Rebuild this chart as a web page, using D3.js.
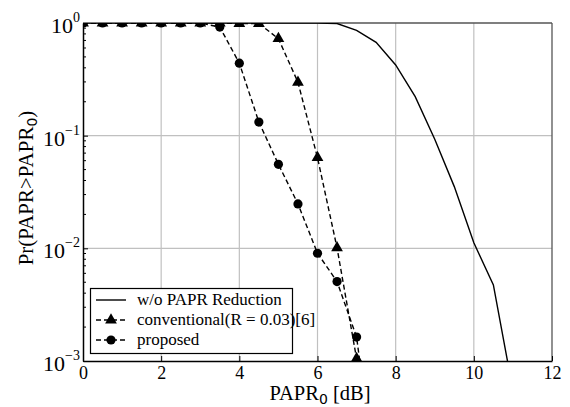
<!DOCTYPE html>
<html><head><meta charset="utf-8">
<script src="https://cdn.jsdelivr.net/npm/d3@7"></script>
<style>body{margin:0;background:#fff}svg{display:block}</style>
</head><body>
<script>
const xTicks = [0,2,4,6,8,10,12];
const yTicks = [1e-3,1e-2,1e-1,1];
const yTickExp = ["−3","−2","−1","0"];
const legendLabels = ["w/o PAPR Reduction","conventional(R = 0.03)[6]","proposed"];

const origX = [0,0.5,1,1.5,2,2.5,3,3.5,4,4.5,5,5.5,6,6.5,7,7.5,8,8.5,9,9.5,10,10.5,11];
const origY = [1,1,1,1,1,1,1,1,1,1,1,1,0.999,0.99,0.86,0.674,0.424,0.222,0.093,0.0353,0.0112,0.00473,0.00055];

const convX = [0,0.5,1,1.5,2,2.5,3,3.5,4,4.5,5,5.5,6,6.5,7,7.5];
const convY = [1,1,1,1,1,1,1,1,0.99,0.99,0.726,0.298,0.0638,0.0101,0.00105,0.00008];

const propX = [0,0.5,1,1.5,2,2.5,3,3.5,4,4.5,5,5.5,6,6.5,7,7.5];
const propY = [1,1,1,1,1,1,1,0.92,0.44,0.132,0.0557,0.0248,0.00904,0.00507,0.00163,0.00008];

const FONT = "Liberation Serif";
const SUBFONT = "DejaVu Sans";
const W=570,H=407, L=83,R=552,T=23,B=361;
const svg = d3.select("body").append("svg").attr("width",W).attr("height",H).attr("font-family",FONT);
const x = d3.scaleLinear().domain([0,12]).range([L,R]);
const y = d3.scaleLog().domain([1e-3,1]).range([B,T]);

svg.append("defs").append("clipPath").attr("id","clip")
  .append("rect").attr("x",L).attr("y",T).attr("width",R-L).attr("height",B-T);

// grid
const g = svg.append("g");
g.selectAll(".gx").data(xTicks.slice(1,-1)).enter().append("line")
  .attr("x1",d=>x(d)).attr("x2",d=>x(d)).attr("y1",T).attr("y2",B)
  .attr("stroke","#c0c0c0").attr("stroke-width",1.2);
g.selectAll(".gy").data(yTicks.slice(1,-1)).enter().append("line")
  .attr("y1",d=>y(d)).attr("y2",d=>y(d)).attr("x1",L).attr("x2",R)
  .attr("stroke","#c0c0c0").attr("stroke-width",1.2);

// frame top/right
svg.append("line").attr("x1",L).attr("x2",R).attr("y1",T).attr("y2",T).attr("stroke","#555").attr("stroke-width",1.3);
svg.append("line").attr("x1",R).attr("x2",R).attr("y1",T).attr("y2",B).attr("stroke","#555").attr("stroke-width",1.3);

// data
const plot = svg.append("g").attr("clip-path","url(#clip)");
const line = d3.line().x(d=>x(d[0])).y(d=>y(d[1]));
plot.append("path").datum(origX.map((v,i)=>[v,origY[i]]))
  .attr("d",line).attr("fill","none").attr("stroke","#000").attr("stroke-width",1.4);
plot.append("path").datum(convX.map((v,i)=>[v,convY[i]]))
  .attr("d",line).attr("fill","none").attr("stroke","#000").attr("stroke-width",1.4).attr("stroke-dasharray","5,3");
plot.append("path").datum(propX.map((v,i)=>[v,propY[i]]))
  .attr("d",line).attr("fill","none").attr("stroke","#000").attr("stroke-width",1.4).attr("stroke-dasharray","5,3");
const tri = d3.symbol().type(d3.symbolTriangle).size(60);
plot.selectAll(".tri").data(convX.map((v,i)=>[v,convY[i]])).enter().append("path")
  .attr("d",tri).attr("transform",d=>`translate(${x(d[0])},${y(d[1])})`).attr("fill","#000");
plot.selectAll(".cir").data(propX.map((v,i)=>[v,propY[i]])).enter().append("circle")
  .attr("cx",d=>x(d[0])).attr("cy",d=>y(d[1])).attr("r",4.6).attr("fill","#000");

// axes
const xAxis = d3.axisBottom(x).tickValues(xTicks).tickSizeInner(-5).tickSizeOuter(0).tickPadding(5).tickFormat(d3.format("d"));
const xg = svg.append("g").attr("transform",`translate(0,${B})`).call(xAxis).attr("font-family",FONT);
xg.select(".domain").attr("stroke","#000").attr("stroke-width",1.5);
xg.selectAll("text").attr("font-size",18).attr("font-family",FONT).attr("fill","#000");
xg.selectAll(".tick line").attr("stroke","#000");

const minor = [];
for (let e=-3;e<0;e++) for (let k=2;k<=9;k++) minor.push(k*Math.pow(10,e));
const yAxis = d3.axisLeft(y).tickValues(yTicks).tickSizeInner(-5).tickSizeOuter(0).tickFormat("");
const yg = svg.append("g").attr("transform",`translate(${L},0)`).call(yAxis);
yg.select(".domain").attr("stroke","#000").attr("stroke-width",1.5);
yg.selectAll(".tick line").attr("stroke","#000");
yg.selectAll(".mn").data(minor).enter().append("line")
  .attr("x1",0).attr("x2",3).attr("y1",d=>y(d)).attr("y2",d=>y(d)).attr("stroke","#000");
const lab = svg.append("g").selectAll("text").data(yTicks).enter().append("text")
  .attr("x",80).attr("y",d=>y(d)+10).attr("text-anchor","end").attr("font-size",22)
  .attr("font-family",FONT).attr("fill","#000");
lab.append("tspan").text("10");
lab.append("tspan").attr("dy",-11).attr("font-size",14).text((d,i)=>yTickExp[i]);

// axis titles
const xt = svg.append("text").attr("x",320).attr("y",400).attr("text-anchor","middle").attr("font-size",20.5)
  .attr("font-family",FONT).attr("fill","#000");
xt.append("tspan").text("PAPR");
xt.append("tspan").attr("dy",4).attr("font-size",14).attr("font-family",SUBFONT).text("0");
xt.append("tspan").attr("dy",-4).text(" [dB]");
const yt = svg.append("text").attr("transform","translate(33,188) rotate(-90)").attr("text-anchor","middle").attr("font-size",21)
  .attr("font-family",FONT).attr("fill","#000");
yt.append("tspan").text("Pr(PAPR>PAPR");
yt.append("tspan").attr("dy",4).attr("font-size",14).attr("font-family",SUBFONT).text("0");
yt.append("tspan").attr("dy",-4).text(")");

// legend
const lg = svg.append("g");
lg.append("rect").attr("x",90.5).attr("y",288.5).attr("width",202).attr("height",65)
  .attr("fill","#fff").attr("stroke","#000").attr("stroke-width",1.2);
legendLabels.forEach((t,i)=>{
  const yy = 300 + i*20;
  lg.append("line").attr("x1",96).attr("x2",126).attr("y1",yy).attr("y2",yy)
    .attr("stroke","#000").attr("stroke-width",1.4).attr("stroke-dasharray",i===0?null:"5,3");
  if (i===1) lg.append("path").attr("d",tri).attr("transform",`translate(111,${yy})`).attr("fill","#000");
  if (i===2) lg.append("circle").attr("cx",111).attr("cy",yy).attr("r",4.6).attr("fill","#000");
  lg.append("text").attr("x",137).attr("y",yy+5).attr("font-size",17).attr("font-family",FONT).attr("fill","#000").text(t);
});
</script>
</body></html>
